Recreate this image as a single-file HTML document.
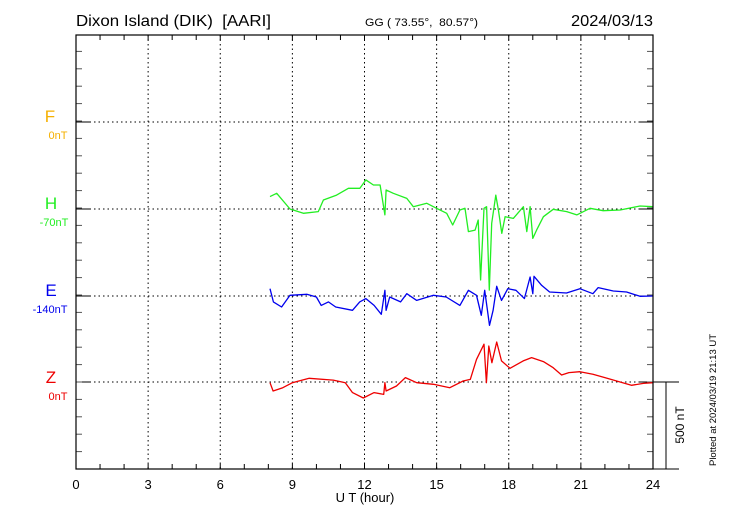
<!DOCTYPE html>
<html><head><meta charset="utf-8"><style>body{margin:0;background:#fff}svg{display:block;font-family:"Liberation Sans",Arial,sans-serif}</style></head>
<body>
<svg id="chart" width="730" height="520" viewBox="0 0 730 520">
<rect width="730" height="520" fill="#fff"/>
<text x="76" y="26" font-size="16" textLength="195" lengthAdjust="spacingAndGlyphs">Dixon Island (DIK)&#160; [AARI]</text>
<text x="365" y="26" font-size="11" textLength="113" lengthAdjust="spacingAndGlyphs">GG ( 73.55°,&#160; 80.57°)</text>
<text x="571" y="26" font-size="16" textLength="82" lengthAdjust="spacingAndGlyphs">2024/03/13</text>
<g id="grid"></g>
<g id="ticks"></g>
<g id="series"></g>
<rect x="76" y="35" width="577" height="434" fill="none" stroke="#000" stroke-width="1.2"/>
<g>
<text x="50" y="122" font-size="17" fill="#f5b000" text-anchor="middle">F</text>
<text x="58" y="139" font-size="11" fill="#f5b000" text-anchor="middle">0nT</text>
<text x="51" y="209" font-size="17" fill="#22ee22" text-anchor="middle">H</text>
<text x="54" y="226" font-size="11" fill="#22ee22" text-anchor="middle">-70nT</text>
<text x="51" y="296" font-size="17" fill="#0000ee" text-anchor="middle">E</text>
<text x="50" y="313" font-size="11" fill="#0000ee" text-anchor="middle">-140nT</text>
<text x="51" y="383" font-size="17" fill="#ee0000" text-anchor="middle">Z</text>
<text x="58" y="400" font-size="11" fill="#ee0000" text-anchor="middle">0nT</text>
</g>
<g id="xlabels"></g>
<text x="365" y="502" font-size="13" text-anchor="middle">U T (hour)</text>
<g stroke="#000" stroke-width="1">
<line x1="653" y1="382" x2="679" y2="382"/><line x1="653" y1="469" x2="679" y2="469"/><line x1="666" y1="382" x2="666" y2="469"/>
</g>
<text transform="translate(684,425) rotate(-90)" font-size="12" text-anchor="middle">500 nT</text>
<text transform="translate(716,400) rotate(-90)" font-size="9.5" text-anchor="middle">Plotted at 2024/03/19 21:13 UT</text>
</svg>
<script>
const xTickLabels=["0","3","6","9","12","15","18","21","24"];
const baselines=[122,209,296,382];
const hTimes=[8.07,8.35,8.9,9.46,10.08,10.29,10.84,11.33,11.81,12.06,12.37,12.65,12.85,12.9,13.2,13.76,14.03,14.59,15.0,15.42,15.67,15.97,16.18,16.32,16.6,16.73,16.83,16.97,17.08,17.19,17.29,17.46,17.57,17.71,17.85,18.19,18.61,18.75,18.89,19.0,19.16,19.44,19.85,20.41,20.83,21.38,21.93,22.63,23.46,24.0];
const hValues=[71,90,0,-25,-15,52,80,119,119,167,138,138,-34,109,90,61,13,33,4,-25,-92,-6,4,-130,-121,-63,-408,4,13,-466,-82,80,-6,-140,-44,-54,13,-130,13,-169,-121,-44,-2,-15,-34,4,-10,-6,17,13];
const eTimes=[8.07,8.21,8.55,8.9,9.6,10.0,10.2,10.5,10.8,11.5,11.8,12.06,12.4,12.7,12.85,12.9,13.05,13.5,13.76,14.17,14.87,15.4,15.97,16.32,16.66,16.86,17.0,17.2,17.35,17.5,17.7,17.96,18.3,18.65,18.89,19.0,19.05,19.37,19.7,20.4,20.96,21.5,21.72,22.35,22.9,23.46,24.0];
const eValues=[42,-34,-63,4,10,-6,-54,-34,-63,-82,-34,-15,-54,-105,33,-82,-6,-34,13,-25,4,-6,-54,33,4,-111,33,-169,-82,56,-25,42,33,-15,109,13,113,61,23,17,42,13,48,29,23,-2,0];
const zTimes=[8.07,8.2,8.6,9.0,9.7,10.7,11.2,11.5,11.95,12.4,12.8,12.85,12.9,13.33,13.7,14.17,14.87,15.55,16.1,16.4,16.66,16.97,17.07,17.17,17.3,17.5,17.7,18.05,18.6,18.95,19.44,19.85,20.2,20.5,20.96,21.5,22.0,22.63,23.1,23.6,24.0];
const zValues=[-4,-52,-33,-4,21,11,-4,-61,-92,-61,-71,-4,-52,-23,25,-4,-13,-33,6,15,130,217,-4,207,111,230,121,79,121,140,117,82,40,54,59,44,25,0,-19,-8,-4];
const NS="http://www.w3.org/2000/svg";
const x=h=>76+h*577/24;
const pxPerNT=87/500;
const y=(base,v)=>base-v*pxPerNT;
function mk(tag,attrs,parent){const e=document.createElementNS(NS,tag);for(const k in attrs)e.setAttribute(k,attrs[k]);parent.appendChild(e);return e;}
const grid=document.getElementById('grid'),ticks=document.getElementById('ticks'),series=document.getElementById('series'),xl=document.getElementById('xlabels');
xTickLabels.forEach((t,i)=>{const h=+t;
 if(i>0&&i<8){const l=mk('line',{x1:x(h),x2:x(h),y1:35,y2:469,stroke:'#000','stroke-width':1,'stroke-dasharray':'1.5,3'},grid);
 
 }
 const tx=mk('text',{x:x(h),y:489,'font-size':13,'text-anchor':'middle'},xl);tx.textContent=t;
 
 
});
baselines.forEach(b=>{const l=mk('line',{x1:76,x2:653,y1:b,y2:b,stroke:'#000','stroke-width':1,'stroke-dasharray':'1.5,3'},grid);
 
 
 mk('line',{x1:76,x2:90,y1:b,y2:b,stroke:'#000'},ticks);mk('line',{x1:639,x2:653,y1:b,y2:b,stroke:'#000'},ticks);});
for(let h=1;h<24;h++){mk('line',{x1:x(h),x2:x(h),y1:35,y2:40,stroke:'#000'},ticks);mk('line',{x1:x(h),x2:x(h),y1:464,y2:469,stroke:'#000'},ticks);}
for(let yy=469;yy>35;yy-=87/5){mk('line',{x1:76,x2:82,y1:yy,y2:yy,stroke:'#555'},ticks);mk('line',{x1:647,x2:653,y1:yy,y2:yy,stroke:'#555'},ticks);}
function drawLine(ts,vs,base,color,name){const d=ts.map((t,i)=>(i?'L':'M')+x(t).toFixed(1)+','+y(base,vs[i]).toFixed(1)).join('');
 const p=mk('path',{d:d,fill:'none',stroke:color,'stroke-width':1.3,'stroke-linejoin':'round'},series);
 
 }
drawLine(hTimes,hValues,209,'#22ee22','h-series');
drawLine(eTimes,eValues,296,'#0000ee','e-series');
drawLine(zTimes,zValues,382,'#ee0000','z-series');
</script>
</body></html>
